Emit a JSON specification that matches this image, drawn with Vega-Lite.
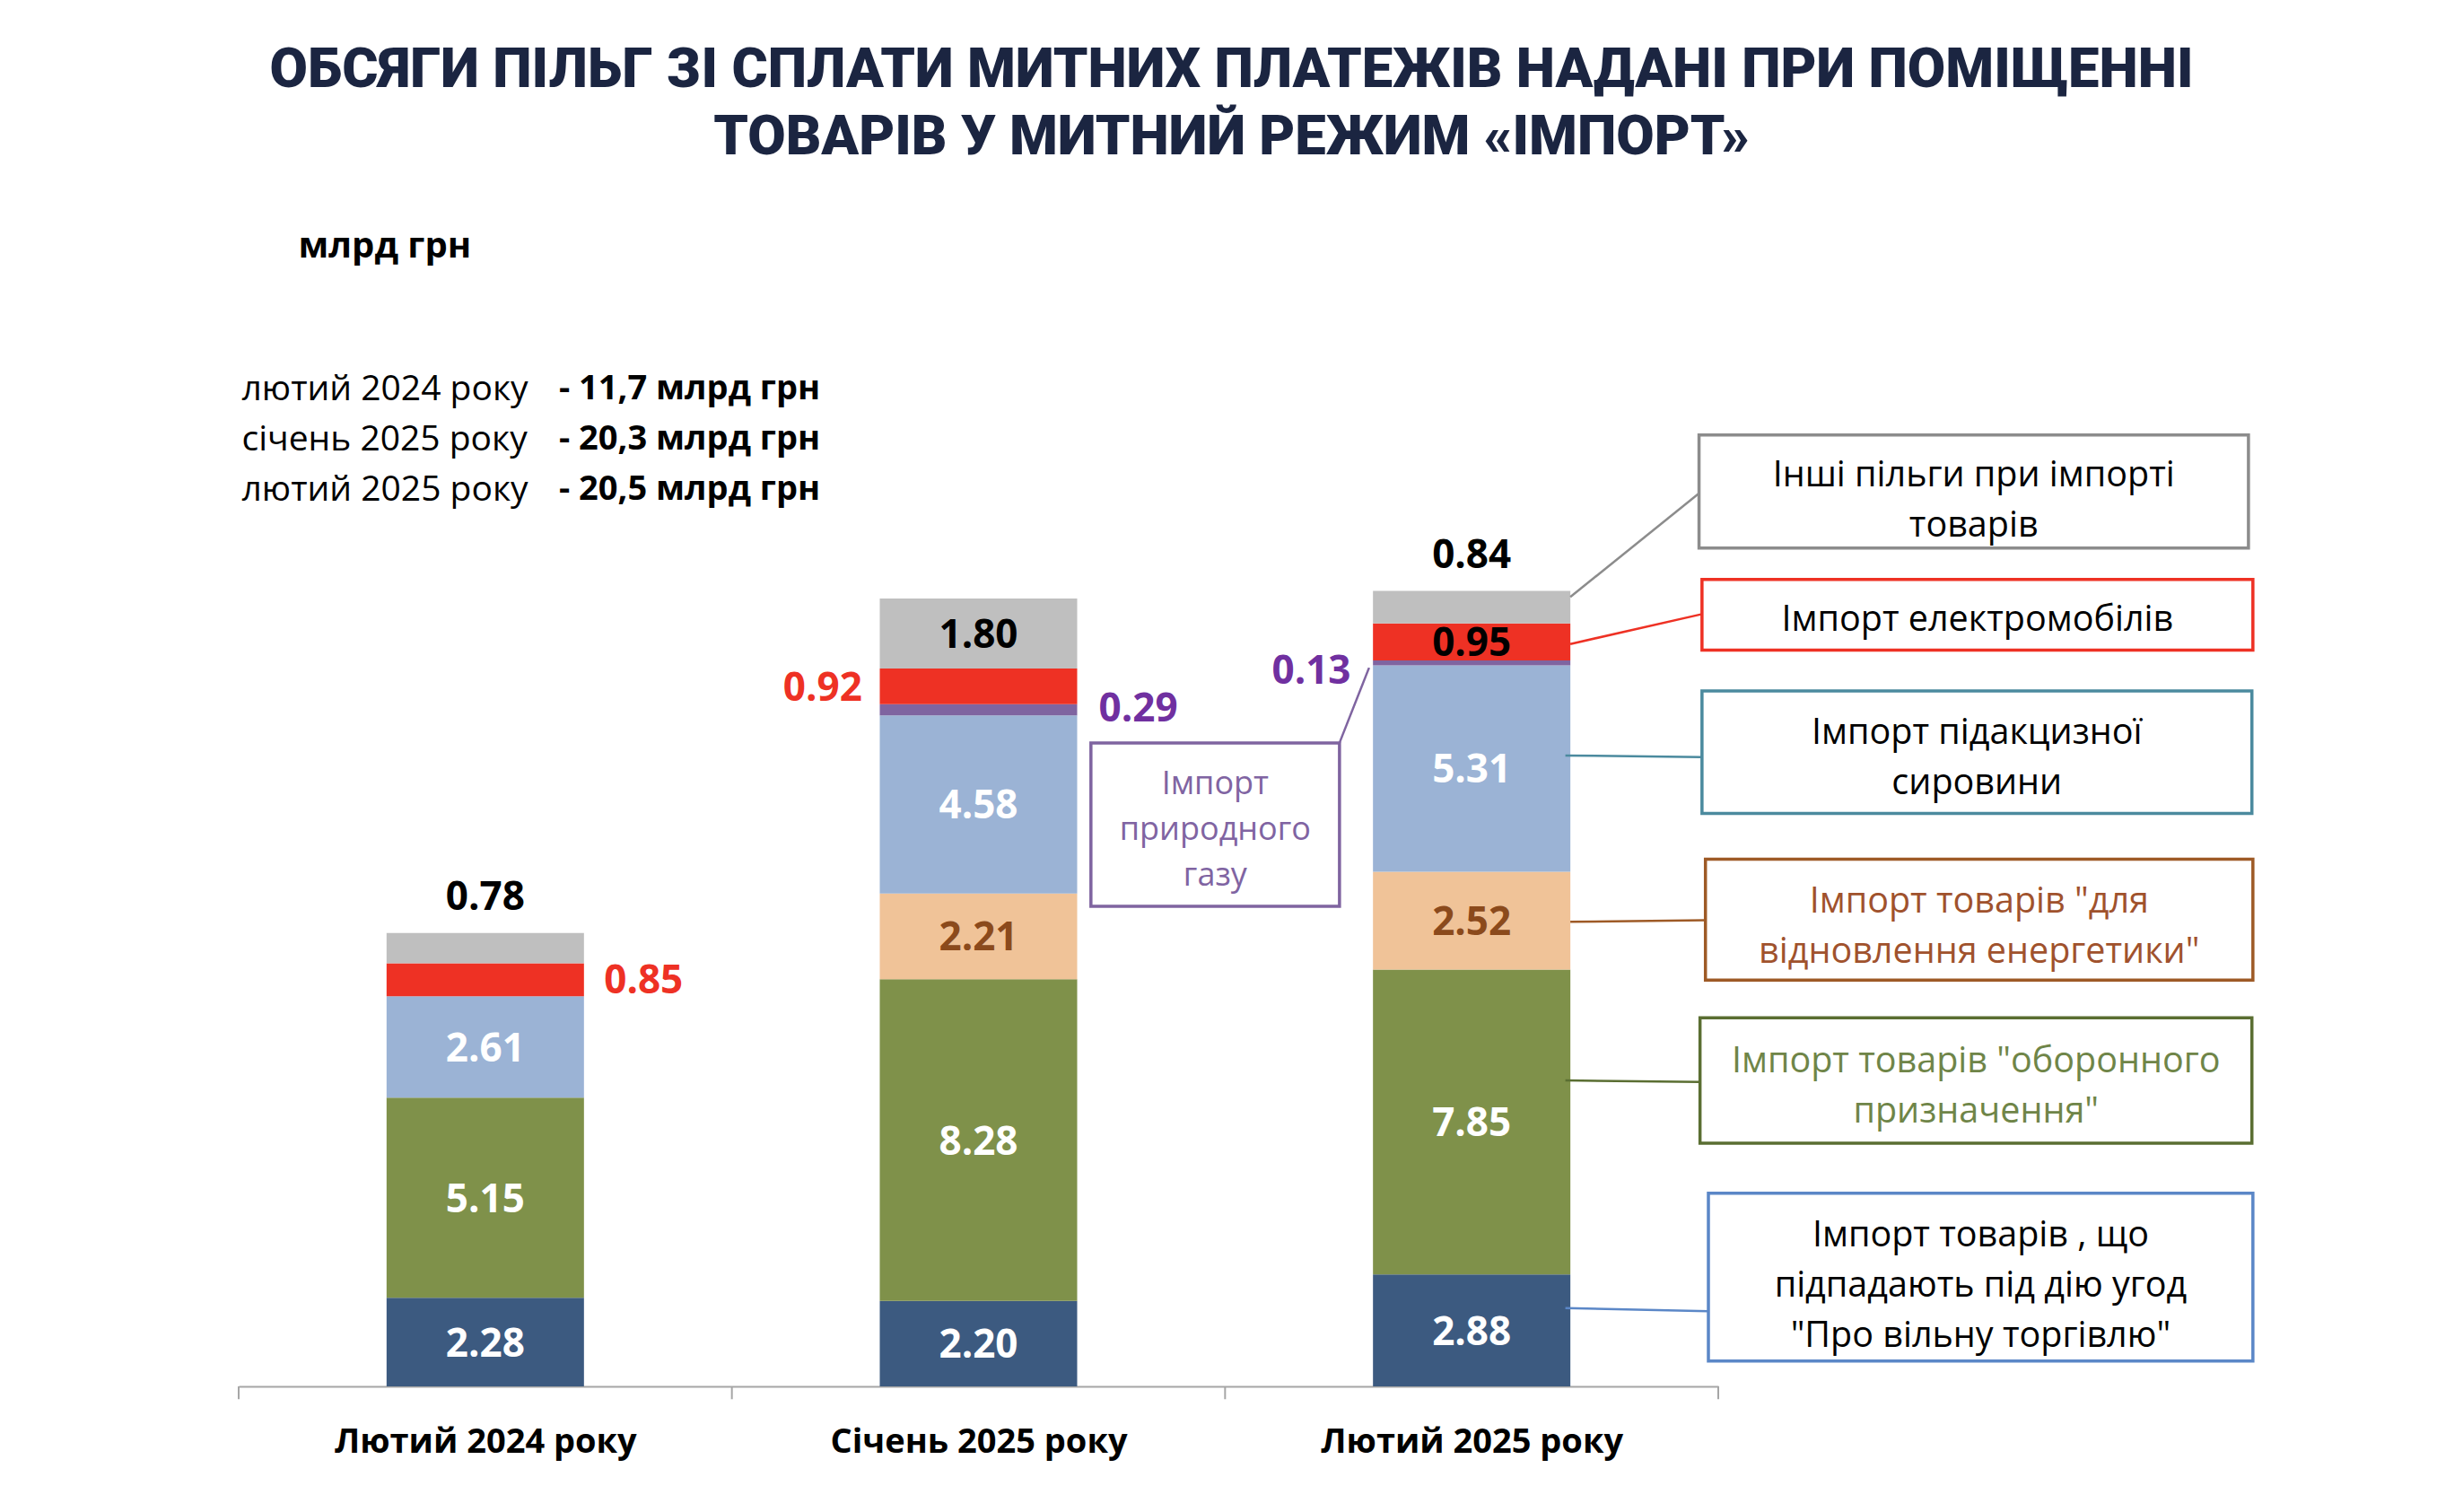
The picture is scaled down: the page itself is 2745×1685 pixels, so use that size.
{
  "$schema": "https://vega.github.io/schema/vega-lite/v6.json",
  "autosize": {"type": "none"},
  "padding": {"left": 266, "top": 506, "right": 830, "bottom": 140},
  "width": 1649,
  "height": 1039,
  "background": "#FFFFFF",
  "config": {"view": {"stroke": null}, "font": "Open Sans"},
  "title": {
    "text": ["ОБСЯГИ ПІЛЬГ ЗІ СПЛАТИ МИТНИХ ПЛАТЕЖІВ НАДАНІ ПРИ ПОМІЩЕННІ", "ТОВАРІВ У МИТНИЙ РЕЖИМ «ІМПОРТ»"],
    "anchor": "middle",
    "frame": "group",
    "dx": 282,
    "offset": 70,
    "font": "Roboto",
    "fontWeight": 900,
    "fontSize": 61.5,
    "lineHeight": 75,
    "color": "#1B2541"
  },
  "datasets": {
    "seg": [
      {"period": "Лютий 2024 року", "pos": 0.5, "cat": "fta", "k": 1, "v": 2.28},
      {"period": "Лютий 2024 року", "pos": 0.5, "cat": "def", "k": 2, "v": 5.15},
      {"period": "Лютий 2024 року", "pos": 0.5, "cat": "excise", "k": 4, "v": 2.61},
      {"period": "Лютий 2024 року", "pos": 0.5, "cat": "ev", "k": 6, "v": 0.85},
      {"period": "Лютий 2024 року", "pos": 0.5, "cat": "other", "k": 7, "v": 0.78},
      {"period": "Січень 2025 року", "pos": 1.5, "cat": "fta", "k": 1, "v": 2.20},
      {"period": "Січень 2025 року", "pos": 1.5, "cat": "def", "k": 2, "v": 8.28},
      {"period": "Січень 2025 року", "pos": 1.5, "cat": "energy", "k": 3, "v": 2.21},
      {"period": "Січень 2025 року", "pos": 1.5, "cat": "excise", "k": 4, "v": 4.58},
      {"period": "Січень 2025 року", "pos": 1.5, "cat": "gas", "k": 5, "v": 0.29},
      {"period": "Січень 2025 року", "pos": 1.5, "cat": "ev", "k": 6, "v": 0.92},
      {"period": "Січень 2025 року", "pos": 1.5, "cat": "other", "k": 7, "v": 1.80},
      {"period": "Лютий 2025 року", "pos": 2.5, "cat": "fta", "k": 1, "v": 2.88},
      {"period": "Лютий 2025 року", "pos": 2.5, "cat": "def", "k": 2, "v": 7.85},
      {"period": "Лютий 2025 року", "pos": 2.5, "cat": "energy", "k": 3, "v": 2.52},
      {"period": "Лютий 2025 року", "pos": 2.5, "cat": "excise", "k": 4, "v": 5.31},
      {"period": "Лютий 2025 року", "pos": 2.5, "cat": "gas", "k": 5, "v": 0.13},
      {"period": "Лютий 2025 року", "pos": 2.5, "cat": "ev", "k": 6, "v": 0.95},
      {"period": "Лютий 2025 року", "pos": 2.5, "cat": "other", "k": 7, "v": 0.84}
    ],
    "outer": [
      {"cat": "other", "v": 0.78, "x": 0.5, "y": 12.56},
      {"cat": "ev", "v": 0.85, "x": 0.821, "y": 10.42},
      {"cat": "ev", "v": 0.92, "x": 1.184, "y": 17.94},
      {"cat": "gas", "v": 0.29, "x": 1.824, "y": 17.41},
      {"cat": "gas", "v": 0.13, "x": 2.175, "y": 18.38},
      {"cat": "other", "v": 0.84, "x": 2.5, "y": 21.37}
    ],
    "ticks": [{"t": 0}, {"t": 1}, {"t": 2}, {"t": 3}],
    "boxes": [
      {"cat": "other", "name": "Інші пільги при імпорті\nтоварів", "x1": 2.961, "x2": 4.075, "y1": 21.58, "y2": 24.49, "ty": 23.44, "lx1": 2.700, "ly1": 20.32, "lx2": 2.961, "ly2": 22.99},
      {"cat": "ev", "name": "Імпорт електромобілів", "x1": 2.967, "x2": 4.084, "y1": 18.95, "y2": 20.77, "ty": 19.72, "lx1": 2.700, "ly1": 19.11, "lx2": 2.967, "ly2": 19.88},
      {"cat": "excise", "name": "Імпорт підакцизної\nсировини", "x1": 2.967, "x2": 4.082, "y1": 14.75, "y2": 17.90, "ty": 16.81, "lx1": 2.69, "ly1": 16.24, "lx2": 2.967, "ly2": 16.20},
      {"cat": "energy", "name": "Імпорт товарів \"для\nвідновлення  енергетики\"", "x1": 2.974, "x2": 4.084, "y1": 10.46, "y2": 13.57, "ty": 12.48, "lx1": 2.70, "ly1": 11.96, "lx2": 2.974, "ly2": 12.00},
      {"cat": "def", "name": "Імпорт товарів \"оборонного\nпризначення\"", "x1": 2.963, "x2": 4.082, "y1": 6.26, "y2": 9.49, "ty": 8.36, "lx1": 2.69, "ly1": 7.875, "lx2": 2.963, "ly2": 7.835},
      {"cat": "fta", "name": "Імпорт товарів , що\nпідпадають під дію угод\n\"Про вільну торгівлю\"", "x1": 2.980, "x2": 4.084, "y1": 0.65, "y2": 4.97, "ty": 3.875, "lx1": 2.69, "ly1": 2.015, "lx2": 2.980, "ly2": 1.934},
      {"cat": "gas", "name": "Імпорт\nприродного\nгазу", "x1": 1.728, "x2": 2.232, "y1": 12.36, "y2": 16.56, "ty": 15.51, "lx1": 2.232, "ly1": 16.565, "lx2": 2.292, "ly2": 18.50}
    ],
    "unit": [{"t": "млрд грн", "x": 0.121, "y": 29.34}],
    "tot": [
      {"a": "лютий 2024 року", "b": "- 11,7 млрд грн", "y": 25.66},
      {"a": "січень 2025 року", "b": "-  20,3 млрд грн", "y": 24.36},
      {"a": "лютий 2025 року", "b": "- 20,5 млрд грн", "y": 23.07}
    ]
  },
  "resolve": {"scale": {"color": "independent"}},
  "layer": [
    {
      "data": {"name": "seg"},
      "transform": [
        {"stack": "v", "groupby": ["pos"], "sort": [{"field": "k", "order": "ascending"}], "as": ["y0", "y1"]}
      ],
      "mark": {"type": "bar", "width": 220},
      "encoding": {
        "x": {
          "field": "pos", "type": "quantitative",
          "scale": {"domain": [0, 3], "nice": false, "zero": false, "padding": 0},
          "axis": {
            "values": [0.5, 1.5, 2.5],
            "labelExpr": "datum.value == 0.5 ? 'Лютий 2024 року' : datum.value == 1.5 ? 'Січень 2025 року' : 'Лютий 2025 року'",
            "ticks": false, "tickSize": 0, "grid": false, "title": null,
            "domain": true, "domainColor": "#A6A6A6", "domainWidth": 2,
            "labelFont": "Open Sans", "labelFontWeight": "bold", "labelFontSize": 38,
            "labelColor": "#000000", "labelPadding": 43, "labelLimit": 1000,
            "labelFlush": false, "labelOverlap": false, "labelBound": false
          }
        },
        "y": {"field": "y0", "type": "quantitative", "scale": {"domain": [0, 24], "nice": false, "padding": 0}, "axis": null},
        "y2": {"field": "y1"},
        "color": {
          "field": "cat", "type": "nominal", "legend": null,
          "scale": {"domain": ["fta", "def", "energy", "excise", "gas", "ev", "other"],
                    "range": ["#3C5A80", "#7F914A", "#F0C398", "#9BB3D5", "#7F64A0", "#EE3124", "#BFBFBF"]}
        }
      }
    },
    {
      "data": {"name": "ticks"},
      "mark": {"type": "rule", "stroke": "#A6A6A6", "strokeWidth": 2},
      "encoding": {
        "x": {"field": "t", "type": "quantitative"},
        "y": {"datum": 0, "type": "quantitative", "axis": null},
        "y2": {"datum": -0.33}
      }
    },
    {
      "data": {"name": "seg"},
      "transform": [
        {"stack": "v", "groupby": ["pos"], "sort": [{"field": "k", "order": "ascending"}], "as": ["y0", "y1"]},
        {"calculate": "(datum.y0 + datum.y1) / 2", "as": "ym"},
        {"filter": "!((datum.pos == 0.5 && (datum.cat == 'ev' || datum.cat == 'other')) || (datum.pos == 1.5 && (datum.cat == 'ev' || datum.cat == 'gas')) || (datum.pos == 2.5 && (datum.cat == 'gas' || datum.cat == 'other')))"}
      ],
      "mark": {"type": "text", "font": "Open Sans", "fontWeight": "bold", "fontSize": 44, "align": "center", "baseline": "middle", "dy": 3},
      "encoding": {
        "x": {"field": "pos", "type": "quantitative"},
        "y": {"field": "ym", "type": "quantitative", "axis": null},
        "text": {"field": "v", "type": "quantitative", "format": ".2f"},
        "color": {
          "field": "cat", "type": "nominal", "legend": null,
          "scale": {"domain": ["fta", "def", "energy", "excise", "ev", "other"],
                    "range": ["#FFFFFF", "#FFFFFF", "#8B4A1C", "#FFFFFF", "#000000", "#000000"]}
        }
      }
    },
    {
      "data": {"name": "outer"},
      "mark": {"type": "text", "font": "Open Sans", "fontWeight": "bold", "fontSize": 44, "align": "center", "baseline": "middle"},
      "encoding": {
        "x": {"field": "x", "type": "quantitative"},
        "y": {"field": "y", "type": "quantitative", "axis": null},
        "text": {"field": "v", "type": "quantitative", "format": ".2f"},
        "color": {
          "field": "cat", "type": "nominal", "legend": null,
          "scale": {"domain": ["other", "ev", "gas"], "range": ["#000000", "#EE3124", "#7030A0"]}
        }
      }
    },
    {
      "data": {"name": "boxes"},
      "mark": {"type": "rule", "strokeWidth": 2.5},
      "encoding": {
        "x": {"field": "lx1", "type": "quantitative"},
        "x2": {"field": "lx2"},
        "y": {"field": "ly1", "type": "quantitative", "axis": null},
        "y2": {"field": "ly2"},
        "stroke": {
          "field": "cat", "type": "nominal", "legend": null,
          "scale": {"domain": ["other", "ev", "excise", "energy", "def", "fta", "gas"],
                    "range": ["#8C8C8C", "#EE3124", "#4B8A9E", "#9E5A26", "#5A6E32", "#5B87C7", "#7F64A0"]}
        }
      }
    },
    {
      "data": {"name": "boxes"},
      "mark": {"type": "rect", "fill": "#FFFFFF", "strokeWidth": 3.5},
      "encoding": {
        "x": {"field": "x1", "type": "quantitative"},
        "x2": {"field": "x2"},
        "y": {"field": "y1", "type": "quantitative", "axis": null},
        "y2": {"field": "y2"},
        "stroke": {"field": "cat", "type": "nominal", "legend": null}
      }
    },
    {
      "data": {"name": "boxes"},
      "transform": [
        {"filter": "datum.cat != 'gas'"},
        {"calculate": "(datum.x1 + datum.x2) / 2", "as": "cx"}
      ],
      "mark": {"type": "text", "font": "Open Sans", "fontSize": 39.5, "align": "center", "baseline": "middle", "lineBreak": "\n", "lineHeight": 56},
      "encoding": {
        "x": {"field": "cx", "type": "quantitative"},
        "y": {"field": "ty", "type": "quantitative", "axis": null},
        "text": {"field": "name", "type": "nominal"},
        "color": {
          "field": "cat", "type": "nominal", "legend": null,
          "scale": {"domain": ["other", "ev", "excise", "energy", "def", "fta"],
                    "range": ["#000000", "#000000", "#000000", "#A0522D", "#6F8548", "#000000"]}
        }
      }
    },
    {
      "data": {"name": "boxes"},
      "transform": [
        {"filter": "datum.cat == 'gas'"},
        {"calculate": "(datum.x1 + datum.x2) / 2", "as": "cx"}
      ],
      "mark": {"type": "text", "font": "Open Sans", "fontSize": 36, "align": "center", "baseline": "middle", "lineBreak": "\n", "lineHeight": 51},
      "encoding": {
        "x": {"field": "cx", "type": "quantitative"},
        "y": {"field": "ty", "type": "quantitative", "axis": null},
        "text": {"field": "name", "type": "nominal"},
        "color": {
          "field": "cat", "type": "nominal", "legend": null,
          "scale": {"domain": ["gas"], "range": ["#8064A2"]}
        }
      }
    },
    {
      "data": {"name": "unit"},
      "mark": {"type": "text", "font": "Open Sans", "fontWeight": "bold", "fontSize": 40, "align": "left", "baseline": "middle", "color": "#000000"},
      "encoding": {
        "x": {"field": "x", "type": "quantitative"},
        "y": {"field": "y", "type": "quantitative", "axis": null},
        "text": {"field": "t", "type": "nominal"}
      }
    },
    {
      "data": {"name": "tot"},
      "mark": {"type": "text", "font": "Open Sans", "fontSize": 39, "align": "left", "baseline": "middle", "color": "#000000"},
      "encoding": {
        "x": {"datum": 0.0064, "type": "quantitative"},
        "y": {"field": "y", "type": "quantitative", "axis": null},
        "text": {"field": "a", "type": "nominal"}
      }
    },
    {
      "data": {"name": "tot"},
      "mark": {"type": "text", "font": "Open Sans", "fontWeight": "bold", "fontSize": 38, "align": "left", "baseline": "middle", "color": "#000000"},
      "encoding": {
        "x": {"datum": 0.6495, "type": "quantitative"},
        "y": {"field": "y", "type": "quantitative", "axis": null},
        "text": {"field": "b", "type": "nominal"}
      }
    }
  ]
}
